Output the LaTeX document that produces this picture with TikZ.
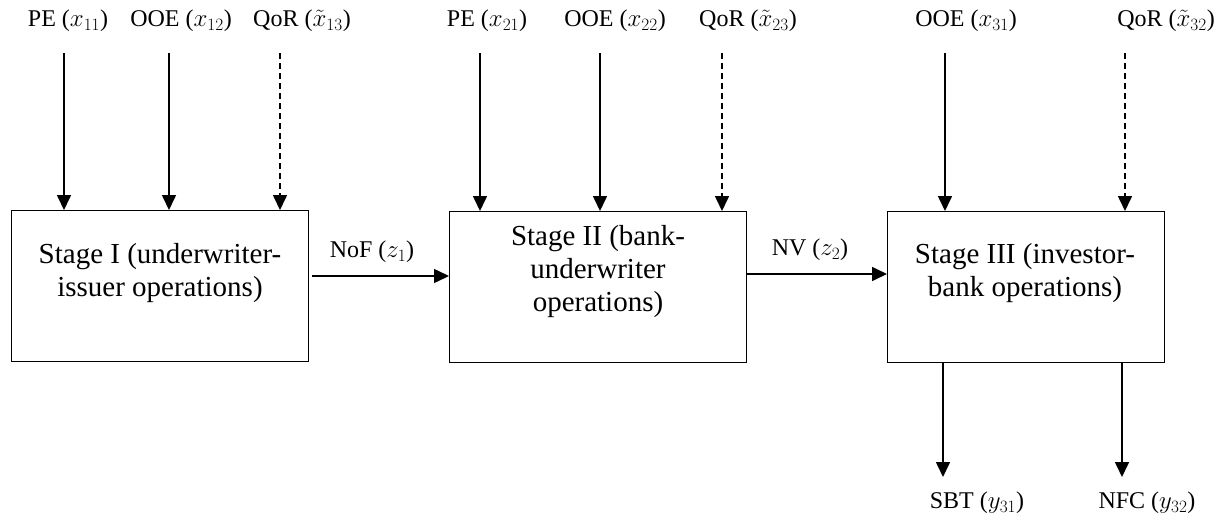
\documentclass[tikz,border=0pt]{standalone}
\usepackage{fontspec}
\setmainfont{Liberation Serif}
\usetikzlibrary{arrows.meta}
\begin{document}
\begin{tikzpicture}[x=1pt,y=-1pt,
  stagebox/.style={draw,line width=1.2pt,minimum width=297pt,minimum height=151pt,anchor=north west,inner sep=0pt},
  boxtext/.style={align=center,font=\fontsize{29}{33}\selectfont},
  lbl/.style={font=\fontsize{24}{28}\selectfont,inner sep=0pt},
  arr/.style={line width=1.6pt,-{Triangle[length=15pt,width=14pt]}},
  darr/.style={arr,dash pattern=on 6pt off 4pt}]
\useasboundingbox (0,0) rectangle (1227,523);
% boxes
\node[stagebox] (b1) at (11,210) {};
\node[stagebox] (b2) at (449,211) {};
\node[stagebox,minimum width=277pt] (b3) at (887,211) {};
\node[boxtext] (t1) at (160,273) {Stage I (underwriter-\\issuer operations)};
\node[boxtext] (t2) at (598,272) {Stage II (bank-\\underwriter\\operations)};
\node[boxtext] (t3) at (1025,273) {Stage III (investor-\\bank operations)};
% top labels
\node[lbl] (l11) at (68,21) {PE ($x_{11}$)};
\node[lbl] (l12) at (181,21) {OOE ($x_{12}$)};
\node[lbl] (l13) at (302,21) {QoR ($\tilde{x}_{13}$)};
\node[lbl] (l21) at (487,21) {PE ($x_{21}$)};
\node[lbl] (l22) at (615,21) {OOE ($x_{22}$)};
\node[lbl] (l23) at (748,21) {QoR ($\tilde{x}_{23}$)};
\node[lbl] (l31) at (966,21) {OOE ($x_{31}$)};
\node[lbl] (l32) at (1166,21) {QoR ($\tilde{x}_{32}$)};
% arrow starts
\coordinate (a11) at (64,53);
\coordinate (a12) at (169,53);
\coordinate (a13) at (280,53);
\coordinate (a21) at (480,53);
\coordinate (a22) at (600,53);
\coordinate (a23) at (722,53);
\coordinate (a31) at (945,53);
\coordinate (a32) at (1125,53);
\draw[arr] (a11) -- (a11 |- b1.north);
\draw[arr] (a12) -- (a12 |- b1.north);
\draw[darr] (a13) -- (a13 |- b1.north);
\draw[arr] (a21) -- (a21 |- b2.north);
\draw[arr] (a22) -- (a22 |- b2.north);
\draw[darr] (a23) -- (a23 |- b2.north);
\draw[arr] (a31) -- (a31 |- b3.north);
\draw[darr] (a32) -- (a32 |- b3.north);
% horizontal
\coordinate (h1) at (312,276);
\draw[arr] (h1) -- (h1 -| b2.west);
\node[lbl] (nof) at (372,252) {NoF ($z_1$)};
\coordinate (h2) at (747,274);
\draw[arr] (h2) -- (h2 -| b3.west);
\node[lbl] (nv) at (810,250) {NV ($z_2$)};
% outputs
\coordinate (o1) at (943,477);
\coordinate (o2) at (1122,477);
\draw[arr] (o1 |- b3.south) -- (o1);
\draw[arr] (o2 |- b3.south) -- (o2);
\node[lbl] (sbt) at (977,503) {SBT ($y_{31}$)};
\node[lbl] (nfc) at (1147,503) {NFC ($y_{32}$)};
\end{tikzpicture}
\end{document}
